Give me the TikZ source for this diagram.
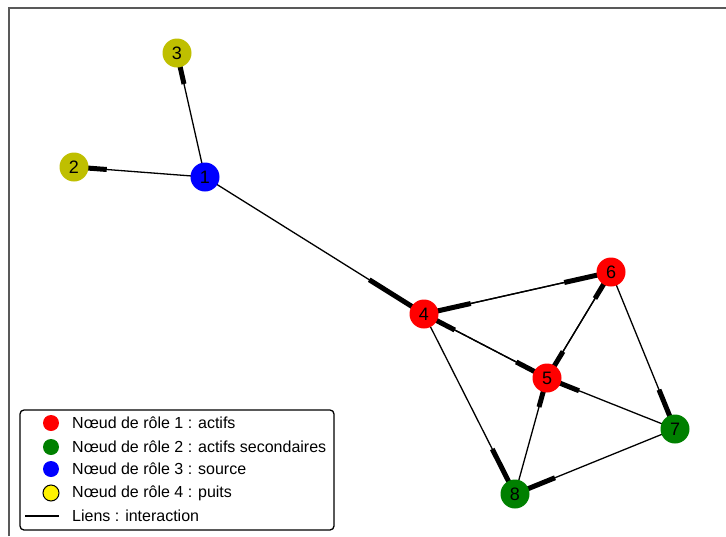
\documentclass[tikz,border=0pt]{standalone}
\usepackage{fontspec}
\setmainfont{Liberation Sans}
\usetikzlibrary{calc,backgrounds}
\tikzset{
  vertex/.style={circle,inner sep=0pt,minimum size=29pt,font=\fontsize{18}{18}\selectfont},
  link/.style={line width=1.3pt},
  head/.style={line width=5pt},
  keydot/.style={circle,inner sep=0pt,minimum size=16pt},
  entry/.style={anchor=west,inner sep=0pt,font=\fontsize{16}{16}\selectfont}
}
\begin{document}
\begin{tikzpicture}[x=1pt,y=-1pt]
\useasboundingbox (0,0) rectangle (726,536);
\draw[line width=2pt,black!65] (9,536)--(9,8)--(726,8);
% nodes
\node[vertex,fill=blue] (n1) at (205,177) {1};
\node[vertex,fill={rgb,255:red,191;green,191;blue,0}] (n2) at (74,167) {2};
\node[vertex,fill={rgb,255:red,191;green,191;blue,0}] (n3) at (177,53) {3};
\node[vertex,fill=red] (n4) at (424,314) {4};
\node[vertex,fill=red] (n5) at (547,378) {5};
\node[vertex,fill=red] (n6) at (611,272) {6};
\node[vertex,fill={rgb,255:red,0;green,128;blue,0}] (n7) at (675,429) {7};
\node[vertex,fill={rgb,255:red,0;green,128;blue,0}] (n8) at (515,494) {8};
% links
\begin{scope}[on background layer]
\foreach \a/\b in {n1/n2,n1/n3,n1/n4,n4/n6,n6/n4,n4/n5,n5/n4,n5/n6,n6/n5,n6/n7,n7/n5,n7/n8,n8/n5,n4/n8}{
  \draw[link] (\a.center)--(\b.center);
  \draw[head] ($(\a.center)!0.75!(\b.center)$)--(\b.center);
}
\end{scope}
% legend
\draw[line width=1.3pt,rounded corners=4pt,fill=white] (20,410) rectangle (334,530);
\node[keydot,fill=red] (m1) at (51,423) {};
\node[keydot,fill={rgb,255:red,0;green,128;blue,0}] (m2) at (51,447) {};
\node[keydot,fill=blue] (m3) at (51,469) {};
\node[keydot,fill=yellow,draw,line width=1pt] (m4) at (51,493) {};
\coordinate (l1) at (25,516);
\coordinate (l2) at (59,516);
\draw[line width=2pt] (l1)--(l2);
\node[entry] at (72,423) {Nœud de rôle 1 : actifs};
\node[entry] at (72,447) {Nœud de rôle 2 : actifs secondaires};
\node[entry] at (72,469) {Nœud de rôle 3 : source};
\node[entry] at (72,493) {Nœud de rôle 4 : puits};
\node[entry] at (72,516) {Liens : interaction};
\end{tikzpicture}
\end{document}
